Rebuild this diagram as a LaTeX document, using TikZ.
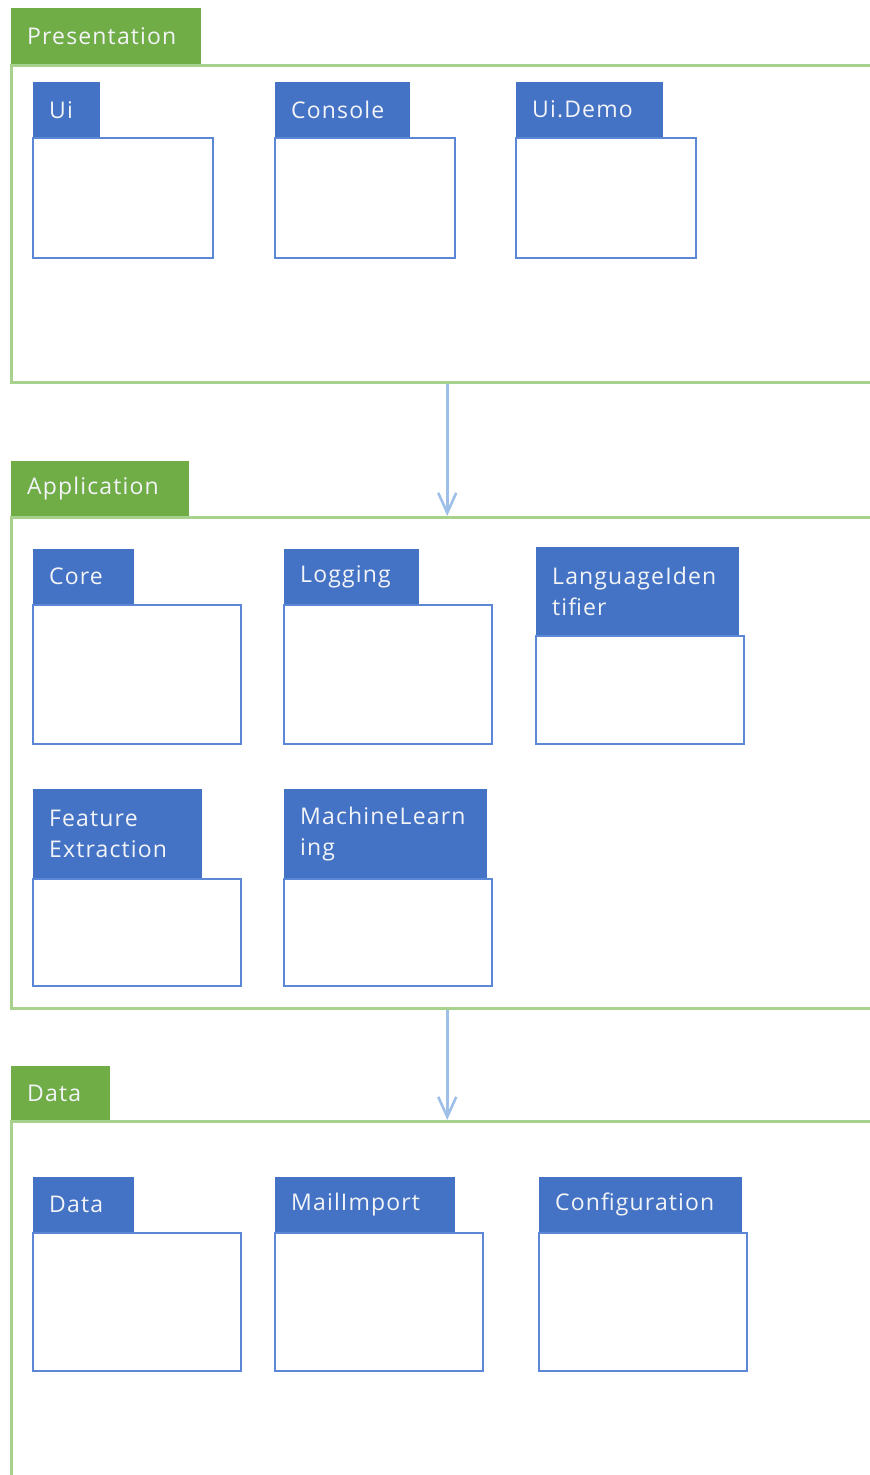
\documentclass[tikz,border=0pt]{standalone}
\usepackage{fontspec}
\setmainfont{Open Sans}
\newfontfamily\labelfamily[LetterSpace=5]{Open Sans}
\usetikzlibrary{arrows.meta}
\definecolor{groupgreen}{HTML}{70AD47}
\definecolor{panelgreen}{HTML}{A9D18E}
\definecolor{pkgblue}{HTML}{4472C4}
\definecolor{bodyblue}{HTML}{5B87D6}
\definecolor{flowblue}{HTML}{9DBFE8}
\definecolor{labelwhite}{HTML}{F2F4F8}
\tikzset{
  x=1pt, y=-1pt,
  labelfont/.style={font=\labelfamily\fontsize{23}{31}\selectfont, text=labelwhite},
  grouptab/.style={labelfont, fill=groupgreen, anchor=north west, inner xsep=16pt, inner ysep=0pt, align=left},
  grouppanel/.style={draw=panelgreen, line width=2.5pt, anchor=north west, inner sep=0pt},
  pkgtab/.style={labelfont, fill=pkgblue, anchor=north west, inner xsep=16pt, inner ysep=0pt, align=left},
  pkgbody/.style={draw=bodyblue, line width=1.6pt, fill=white, anchor=north west, inner sep=0pt},
  flow/.style={draw=flowblue, line width=2.8pt, -{Straight Barb[length=20pt,width=18pt,line width=2.6pt]}}
}
\begin{document}
\begin{tikzpicture}
\useasboundingbox (0,0) rectangle (870,1475);
\clip (0,0) rectangle (870,1475);
\fill[white] (0,0) rectangle (870,1475);

% layer frames, open to the right
\node[grouppanel, minimum width=872pt, minimum height=317pt] (presframe) at (10,64) {};
\node[grouppanel, minimum width=872pt, minimum height=491pt] (appframe) at (10,516) {};
\node[grouppanel, minimum width=872pt, minimum height=400pt] (dataframe) at (10,1120) {};

% layer tabs
\node[grouptab, minimum width=190pt, minimum height=56pt, text width=158pt] (prestab) at (11,8) {Presentation};
\node[grouptab, minimum width=178pt, minimum height=55pt, text width=146pt] (apptab) at (11,461) {Application};
\node[grouptab, minimum width=99pt, minimum height=54pt, text width=67pt] (datatab) at (11,1066) {Data};

% packages: name / label / left / tab top / tab width / tab height / body width / body height
\foreach \n/\lbl/\x/\yt/\tw/\th/\bw/\bh in {
    ui/Ui/32/82/67/55/180/120,
    console/Console/274/82/135/55/180/120,
    uidemo/Ui.Demo/515/82/147/55/180/120,
    core/Core/32/549/101/55/208/139,
    logging/Logging/283/549/135/55/208/139,
    langid/{LanguageIden\\tifier}/535/547/203/88/208/108,
    featext/{Feature\\Extraction}/32/789/169/89/208/107,
    mlearn/{MachineLearn\\ing}/283/789/203/89/208/107,
    data/Data/32/1177/101/55/208/138,
    mailimport/MailImport/274/1177/180/55/208/138,
    config/Configuration/538/1177/203/55/208/138}
{
  \node[pkgbody, minimum width=\bw pt, minimum height=\bh pt] (\n-body) at (\x,\yt+\th) {};
  \pgfmathsetmacro\tww{\tw-32}
  \node[pkgtab, minimum width=\tw pt, minimum height=\th pt, text width=\tww pt] (\n-tab) at (\x+1,\yt) {\lbl};
}

% dependencies between layers
\draw[flow] (presframe.south) -- (appframe.north);
\draw[flow] (appframe.south) -- (dataframe.north);
\end{tikzpicture}
\end{document}
